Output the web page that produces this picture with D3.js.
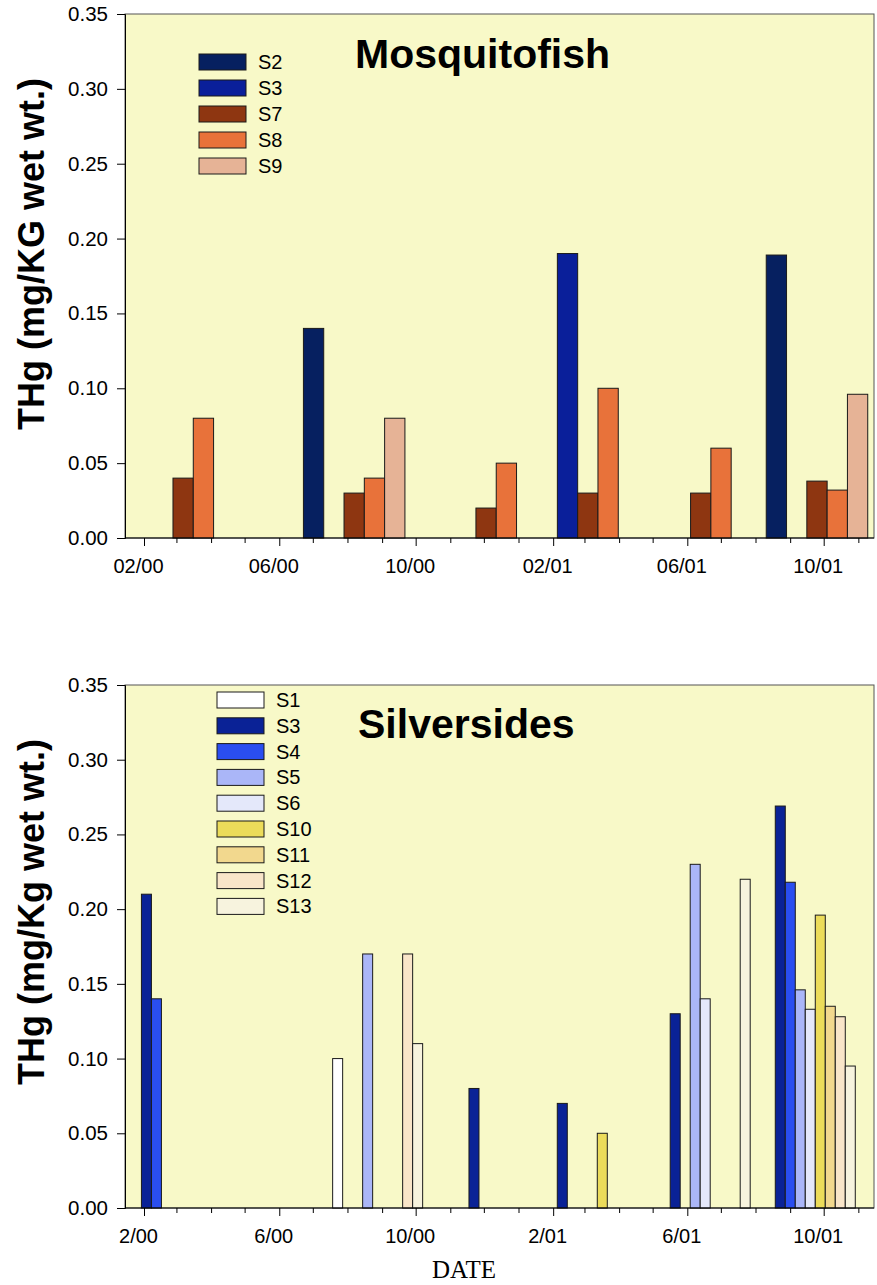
<!DOCTYPE html>
<html lang="en">
<head>
<meta charset="UTF-8">
<title>THg in Mosquitofish and Silversides</title>
<script src="https://cdn.jsdelivr.net/npm/d3@7/dist/d3.min.js"></script>
<style>
  body { margin: 0; background: #fff; }
  svg { display: block; font-family: "Liberation Sans", Arial, sans-serif; }
</style>
</head>
<body>
<div id="chart"></div>
<script>
// ---- data ----
// Mosquitofish: sampling dates (group centres) and one array of values per station
const mosqSeries = ["S2", "S3", "S7", "S8", "S9"];
const mosqDates = ["2000-03-07", "2000-08-07", "2000-12-03", "2001-03-04", "2001-06-13", "2001-09-25"];
const mosqS2 = [null, 0.14, null, null, null, 0.189];
const mosqS3 = [null, null, null, 0.19, null, null];
const mosqS7 = [0.04, 0.03, 0.02, 0.03, 0.03, 0.038];
const mosqS8 = [0.08, 0.04, 0.05, 0.10, 0.06, 0.032];
const mosqS9 = [null, 0.08, null, null, null, 0.096];
const mosqTickLabels = ["02/00", "06/00", "10/00", "02/01", "06/01", "10/01"];

// Silversides
const silvSeries = ["S1", "S3", "S4", "S5", "S6", "S10", "S11", "S12", "S13"];
const silvDates = ["2000-03-01", "2000-08-28", "2000-12-19", "2001-03-08", "2001-06-17", "2001-09-19"];
const silvS1  = [null, 0.10, null, null, null, null];
const silvS3  = [0.21, null, 0.08, 0.07, 0.13, 0.269];
const silvS4  = [0.14, null, null, null, null, 0.218];
const silvS5  = [null, 0.17, null, null, 0.23, 0.146];
const silvS6  = [null, null, null, null, 0.14, 0.133];
const silvS10 = [null, null, null, 0.05, null, 0.196];
const silvS11 = [null, null, null, null, null, 0.135];
const silvS12 = [null, 0.17, null, null, null, 0.128];
const silvS13 = [null, 0.11, null, null, 0.22, 0.095];
const silvTickLabels = ["2/00", "6/00", "10/00", "2/01", "6/01", "10/01"];

const yTicks = [0, 0.05, 0.10, 0.15, 0.20, 0.25, 0.30, 0.35];

// colours, in series order
const mosqColors = ["#062060", "#0a1f9a", "#8e3611", "#e8723a", "#e6b396"];
const silvColors = ["#ffffff", "#0a2296", "#2a4ef0", "#aab6f8", "#e4e8fa", "#ecdc5a", "#f2d88e", "#f9e5c9", "#f7f3de"];

// ---- layout ----
const width = 877, height = 1285;
const plotLeft = 125, plotRight = 874;
const parse = d3.timeParse("%Y-%m-%d");

const svg = d3.select("#chart").append("svg")
    .attr("width", width)
    .attr("height", height);

const x = d3.scaleTime()
    .domain([new Date(2000, 0, 15), new Date(2001, 10, 15)])
    .range([plotLeft, plotRight]);

function drawPanel(opt) {
    const y = d3.scaleLinear().domain([0, 0.35]).range([opt.bottom, opt.top]);
    const g = svg.append("g");

    // plot background + frame
    g.append("rect")
        .attr("x", plotLeft).attr("y", opt.top)
        .attr("width", plotRight - plotLeft).attr("height", opt.bottom - opt.top)
        .attr("fill", "#f8f9c8")
        .attr("stroke", "#555").attr("stroke-width", 1);

    // bars: one slot per series, side by side around each date
    const slot = d3.scaleBand()
        .domain(opt.series)
        .range([-opt.slotW * opt.series.length / 2, opt.slotW * opt.series.length / 2]);
    const bars = [];
    opt.series.forEach((s, si) => {
        opt.values[si].forEach((v, di) => {
            if (v != null) bars.push({ s, si, v, date: parse(opt.dates[di]) });
        });
    });
    g.append("g").selectAll("rect")
        .data(bars)
        .join("rect")
        .attr("x", d => x(d.date) + slot(d.s))
        .attr("y", d => y(d.v))
        .attr("width", slot.bandwidth())
        .attr("height", d => y(0) - y(d.v))
        .attr("fill", d => opt.colors[d.si])
        .attr("stroke", "#1a1a1a")
        .attr("stroke-width", 1);

    // y axis
    const yAxis = g.append("g")
        .attr("transform", `translate(${plotLeft},0)`)
        .call(d3.axisLeft(y).tickValues(yTicks).tickSize(8).tickPadding(9)
            .tickFormat(d3.format(".2f")));
    yAxis.select(".domain").attr("stroke", "#000");
    yAxis.selectAll("text").attr("font-size", 20.5).attr("fill", "#000")
        .attr("font-family", "Liberation Sans, Arial, sans-serif");

    // x axis: monthly ticks, labels every four months
    const labelDates = [1, 5, 9, 13, 17, 21].map(m => new Date(2000, m, 1));
    const months = d3.timeMonth.range(new Date(2000, 1, 1), new Date(2001, 11, 1));
    const xAxis = g.append("g")
        .attr("transform", `translate(0,${opt.bottom})`)
        .call(d3.axisBottom(x).tickValues(months).tickSize(5).tickPadding(16)
            .tickFormat(d => {
                const i = labelDates.findIndex(l => +l === +d);
                return i >= 0 ? opt.tickLabels[i] : "";
            }));
    xAxis.select(".domain").attr("stroke", "#000")
        .attr("d", `M${plotLeft},0H${plotRight}`);
    xAxis.selectAll(".tick line")
        .attr("y2", d => labelDates.some(l => +l === +d) ? 8 : 5);
    xAxis.selectAll("text").attr("font-size", 20).attr("fill", "#000")
        .attr("dx", -6)
        .attr("font-family", "Liberation Sans, Arial, sans-serif");

    // y label
    g.append("text")
        .attr("transform", `translate(44,${opt.labelY}) rotate(-90)`)
        .attr("text-anchor", "middle")
        .attr("font-size", 36).attr("font-weight", "bold")
        .text(opt.yLabel);

    // title
    g.append("text")
        .attr("x", opt.titleX).attr("y", opt.titleY)
        .attr("font-size", 41).attr("font-weight", "bold")
        .text(opt.title);

    // legend
    const leg = g.append("g").selectAll("g")
        .data(opt.series)
        .join("g")
        .attr("transform", (d, i) => `translate(${opt.legX},${opt.legY + i * opt.legStep})`);
    leg.append("rect")
        .attr("x", 0).attr("y", -8)
        .attr("width", 47).attr("height", 16)
        .attr("fill", (d, i) => opt.colors[i])
        .attr("stroke", "#1a1a1a").attr("stroke-width", 1);
    leg.append("text")
        .attr("x", 59).attr("y", 7)
        .attr("font-size", 20)
        .text(d => d);
}

drawPanel({
    top: 14, bottom: 538,
    series: mosqSeries, dates: mosqDates,
    values: [mosqS2, mosqS3, mosqS7, mosqS8, mosqS9],
    colors: mosqColors, tickLabels: mosqTickLabels,
    slotW: 20.3,
    yLabel: "THg (mg/KG wet wt.)", labelY: 254,
    title: "Mosquitofish", titleX: 355, titleY: 68,
    legX: 199, legY: 62, legStep: 26
});

drawPanel({
    top: 685, bottom: 1208,
    series: silvSeries, dates: silvDates,
    values: [silvS1, silvS3, silvS4, silvS5, silvS6, silvS10, silvS11, silvS12, silvS13],
    colors: silvColors, tickLabels: silvTickLabels,
    slotW: 10,
    yLabel: "THg (mg/Kg wet wt.)", labelY: 912,
    title: "Silversides", titleX: 358, titleY: 738,
    legX: 217, legY: 700, legStep: 25.8
});

svg.append("text")
    .attr("x", 464).attr("y", 1278)
    .attr("text-anchor", "middle")
    .attr("font-family", "Liberation Serif, Times New Roman, serif")
    .attr("font-size", 25)
    .text("DATE");
</script>
</body>
</html>
